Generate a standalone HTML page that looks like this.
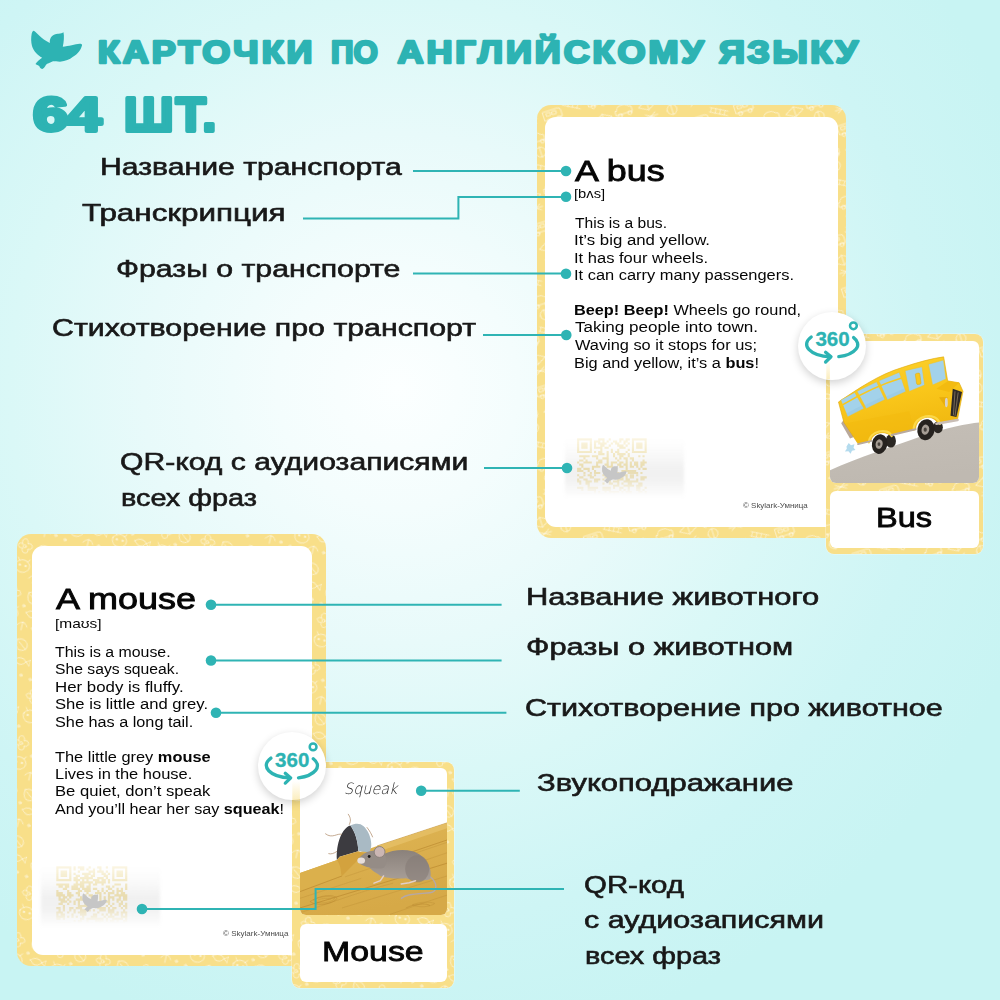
<!DOCTYPE html>
<html lang="ru">
<head>
<meta charset="utf-8">
<title>Карточки по английскому языку</title>
<style>
html,body{margin:0;padding:0;}
body{width:1000px;height:1000px;position:relative;overflow:hidden;
 font-family:"Liberation Sans",sans-serif;
 background:radial-gradient(circle 670px at 398px 388px,#fcffff 0%,#f4fdfd 18%,#e8fafa 38%,#daf8f7 58%,#cef5f5 80%,#c8f4f3 100%);}
.t{position:absolute;white-space:nowrap;transform-origin:0 0;margin:0;padding:0;}
.t b{font-weight:700;}
.card{position:absolute;background:#f8df89;box-sizing:border-box;overflow:hidden;}
.inner{position:absolute;background:#fff;}
.abs{position:absolute;}
svg{position:absolute;left:0;top:0;overflow:visible;}
</style>
</head>
<body>


<svg width="0" height="0" style="position:absolute">
  <defs>
    <pattern id="padv" width="46" height="52" patternUnits="userSpaceOnUse" patternTransform="rotate(-18)">
      <g fill="none" stroke="#fff" stroke-width=".9" stroke-opacity=".6" stroke-linecap="round" stroke-linejoin="round">
        <path d="M3 9h15a3 3 0 0 1 3 3v6H3z M6 11h4v3H6z M12 11h4v3h-4z"/>
        <circle cx="7" cy="19" r="2"/><circle cx="17" cy="19" r="2"/>
        <path d="M26 4l16 9 M24 8l16 9 M27 5l-2 3 M31 7l-2 4 M35 9l-2 4 M39 12l-2 3"/>
        <path d="M28 30c0-5 10-5 12-1l3 1v5H26v-4z"/><circle cx="30" cy="36" r="2"/><circle cx="40" cy="36" r="2"/>
        <path d="M4 34l9-5 9 5-9 5z M13 29v10"/>
        <path d="M6 46h14 M8 43l10 6 M8 49l10-6"/>
        <path d="M30 46a5 5 0 1 0 10 0a5 5 0 1 0-10 0 M35 41v10"/>
      </g>
    </pattern>
    <pattern id="pada" width="44" height="48" patternUnits="userSpaceOnUse" patternTransform="rotate(14)">
      <g fill="none" stroke="#fff" stroke-width=".9" stroke-opacity=".6" stroke-linecap="round" stroke-linejoin="round">
        <path d="M8 8c-4-6 6-8 5-1c6-3 7 6 1 5c3 6-7 6-5 0c-6 2-7-6-1-4z"/><circle cx="10.500" cy="10" r="1.500"/>
        <path d="M26 6c6-4 14 2 10 8c-4 4-12 2-10-8z M28 8l8 6"/>
        <path d="M6 28c2-6 12-6 14 0c1 5-3 8-7 8s-8-3-7-8z M9 25l-2-3 M17 25l2-3"/><circle cx="10" cy="29" r=".8"/><circle cx="16" cy="29" r=".8"/>
        <path d="M28 26q6-6 12 0q-6 8-12 0z M40 26l4-3v6z"/>
        <circle cx="24" cy="20" r="1.200"/><circle cx="38" cy="40" r="1.200"/><circle cx="4" cy="42" r="1.200"/>
        <path d="M22 40c3-5 8-5 10 0 M27 36v8"/>
      </g>
    </pattern>
  </defs>
</svg>

<!-- big bus card -->
<div class="card" style="left:537px;top:105px;width:309px;height:433px;border-radius:14px;">
  <svg width="309" height="433" style="position:absolute;left:0;top:0"><rect width="309" height="433" fill="url(#padv)"/></svg>
  <div class="inner" style="left:8px;top:12px;width:293px;height:410px;border-radius:11px;"></div>
</div>

<!-- big mouse card -->
<div class="card" style="left:17px;top:534px;width:309px;height:432px;border-radius:14px;">
  <svg width="309" height="432" style="position:absolute;left:0;top:0"><rect width="309" height="432" fill="url(#pada)"/></svg>
  <div class="inner" style="left:14.8px;top:12px;width:280px;height:409px;border-radius:11px;"></div>
</div>


<!-- QR areas -->
<svg width="1000" height="1000" viewBox="0 0 1000 1000">
  <defs>
    <linearGradient id="qrf1" gradientUnits="userSpaceOnUse" x1="0" y1="438" x2="0" y2="497">
      <stop offset="0" stop-color="#fff" stop-opacity=".7"/><stop offset=".25" stop-color="#fff" stop-opacity=".4"/><stop offset=".5" stop-color="#fff" stop-opacity=".12"/><stop offset=".7" stop-color="#fff" stop-opacity=".3"/><stop offset=".95" stop-color="#fff" stop-opacity="1"/>
    </linearGradient>
    <linearGradient id="qrf2" gradientUnits="userSpaceOnUse" x1="0" y1="866" x2="0" y2="926">
      <stop offset="0" stop-color="#fff" stop-opacity=".7"/><stop offset=".25" stop-color="#fff" stop-opacity=".4"/><stop offset=".5" stop-color="#fff" stop-opacity=".12"/><stop offset=".7" stop-color="#fff" stop-opacity=".3"/><stop offset=".95" stop-color="#fff" stop-opacity="1"/>
    </linearGradient>
    <linearGradient id="band1" gradientUnits="userSpaceOnUse" x1="0" y1="440" x2="0" y2="498">
      <stop offset="0" stop-color="#aaa" stop-opacity="0"/><stop offset=".25" stop-color="#aaa" stop-opacity=".07"/><stop offset=".5" stop-color="#aaa" stop-opacity=".17"/><stop offset=".65" stop-color="#aaa" stop-opacity=".17"/><stop offset=".85" stop-color="#aaa" stop-opacity=".08"/><stop offset="1" stop-color="#aaa" stop-opacity="0"/>
    </linearGradient>
    <linearGradient id="band2" gradientUnits="userSpaceOnUse" x1="0" y1="868" x2="0" y2="928">
      <stop offset="0" stop-color="#aaa" stop-opacity="0"/><stop offset=".25" stop-color="#aaa" stop-opacity=".07"/><stop offset=".5" stop-color="#aaa" stop-opacity=".17"/><stop offset=".65" stop-color="#aaa" stop-opacity=".17"/><stop offset=".85" stop-color="#aaa" stop-opacity=".08"/><stop offset="1" stop-color="#aaa" stop-opacity="0"/>
    </linearGradient>
    <clipPath id="qc1"><rect x="570" y="436" width="90" height="61"/></clipPath><clipPath id="qc2"><rect x="50" y="864" width="90" height="62"/></clipPath>
    <filter id="bl" x="-10%" y="-10%" width="120%" height="120%"><feGaussianBlur stdDeviation="1.5"/></filter>
    <path id="bird" d="M125 155 C150 160 230 275 355 328 C345 240 410 190 480 195 C510 195 535 185 550 176 C562 230 555 320 540 382 C620 372 720 345 780 338 C805 338 818 345 815 360 C800 420 760 480 680 530 C640 565 580 590 500 595 C460 595 420 592 400 590 C360 605 310 630 300 640 C290 660 270 695 248 700 C230 700 215 685 205 660 C190 645 160 640 150 628 C170 600 215 560 245 540 C180 500 120 440 100 370 C85 320 85 250 95 200 C100 175 110 155 125 155Z"/>
  </defs>
  <path d="M577.1 438.3h14.8v2.1h-14.8zM598.2 438.3h6.3v2.1h-6.3zM608.7 438.3h2.1v2.1h-2.1zM619.3 438.3h4.2v2.1h-4.2zM625.6 438.3h4.2v2.1h-4.2zM631.9 438.3h14.8v2.1h-14.8zM577.1 440.4h2.1v2.1h-2.1zM589.8 440.4h2.1v2.1h-2.1zM594.0 440.4h6.3v2.1h-6.3zM602.4 440.4h2.1v2.1h-2.1zM606.6 440.4h2.1v2.1h-2.1zM613.0 440.4h4.2v2.1h-4.2zM619.3 440.4h2.1v2.1h-2.1zM623.5 440.4h4.2v2.1h-4.2zM631.9 440.4h2.1v2.1h-2.1zM644.6 440.4h2.1v2.1h-2.1zM577.1 442.5h2.1v2.1h-2.1zM581.3 442.5h6.3v2.1h-6.3zM589.8 442.5h2.1v2.1h-2.1zM594.0 442.5h2.1v2.1h-2.1zM598.2 442.5h8.4v2.1h-8.4zM610.8 442.5h2.1v2.1h-2.1zM615.1 442.5h4.2v2.1h-4.2zM623.5 442.5h2.1v2.1h-2.1zM627.7 442.5h2.1v2.1h-2.1zM631.9 442.5h2.1v2.1h-2.1zM636.2 442.5h6.3v2.1h-6.3zM644.6 442.5h2.1v2.1h-2.1zM577.1 444.6h2.1v2.1h-2.1zM581.3 444.6h6.3v2.1h-6.3zM589.8 444.6h2.1v2.1h-2.1zM594.0 444.6h2.1v2.1h-2.1zM600.3 444.6h4.2v2.1h-4.2zM608.7 444.6h2.1v2.1h-2.1zM617.2 444.6h6.3v2.1h-6.3zM625.6 444.6h2.1v2.1h-2.1zM631.9 444.6h2.1v2.1h-2.1zM636.2 444.6h6.3v2.1h-6.3zM644.6 444.6h2.1v2.1h-2.1zM577.1 446.7h2.1v2.1h-2.1zM581.3 446.7h6.3v2.1h-6.3zM589.8 446.7h2.1v2.1h-2.1zM594.0 446.7h8.4v2.1h-8.4zM604.5 446.7h4.2v2.1h-4.2zM619.3 446.7h6.3v2.1h-6.3zM631.9 446.7h2.1v2.1h-2.1zM636.2 446.7h6.3v2.1h-6.3zM644.6 446.7h2.1v2.1h-2.1zM577.1 448.8h2.1v2.1h-2.1zM589.8 448.8h2.1v2.1h-2.1zM600.3 448.8h2.1v2.1h-2.1zM610.8 448.8h2.1v2.1h-2.1zM617.2 448.8h2.1v2.1h-2.1zM627.7 448.8h2.1v2.1h-2.1zM631.9 448.8h2.1v2.1h-2.1zM644.6 448.8h2.1v2.1h-2.1zM577.1 451.0h14.8v2.1h-14.8zM594.0 451.0h2.1v2.1h-2.1zM598.2 451.0h4.2v2.1h-4.2zM606.6 451.0h2.1v2.1h-2.1zM610.8 451.0h2.1v2.1h-2.1zM615.1 451.0h4.2v2.1h-4.2zM625.6 451.0h2.1v2.1h-2.1zM631.9 451.0h14.8v2.1h-14.8zM598.2 453.1h6.3v2.1h-6.3zM606.6 453.1h2.1v2.1h-2.1zM613.0 453.1h2.1v2.1h-2.1zM617.2 453.1h8.4v2.1h-8.4zM627.7 453.1h2.1v2.1h-2.1zM579.2 455.2h10.5v2.1h-10.5zM591.9 455.2h6.3v2.1h-6.3zM606.6 455.2h2.1v2.1h-2.1zM613.0 455.2h2.1v2.1h-2.1zM619.3 455.2h4.2v2.1h-4.2zM627.7 455.2h2.1v2.1h-2.1zM638.3 455.2h2.1v2.1h-2.1zM642.5 455.2h2.1v2.1h-2.1zM583.4 457.3h2.1v2.1h-2.1zM596.1 457.3h2.1v2.1h-2.1zM602.4 457.3h6.3v2.1h-6.3zM615.1 457.3h2.1v2.1h-2.1zM619.3 457.3h2.1v2.1h-2.1zM623.5 457.3h4.2v2.1h-4.2zM629.8 457.3h4.2v2.1h-4.2zM579.2 459.4h4.2v2.1h-4.2zM585.5 459.4h2.1v2.1h-2.1zM598.2 459.4h4.2v2.1h-4.2zM606.6 459.4h2.1v2.1h-2.1zM617.2 459.4h2.1v2.1h-2.1zM625.6 459.4h2.1v2.1h-2.1zM631.9 459.4h2.1v2.1h-2.1zM642.5 459.4h2.1v2.1h-2.1zM577.1 461.5h2.1v2.1h-2.1zM583.4 461.5h8.4v2.1h-8.4zM596.1 461.5h6.3v2.1h-6.3zM606.6 461.5h2.1v2.1h-2.1zM610.8 461.5h6.3v2.1h-6.3zM619.3 461.5h4.2v2.1h-4.2zM625.6 461.5h2.1v2.1h-2.1zM629.8 461.5h2.1v2.1h-2.1zM634.0 461.5h4.2v2.1h-4.2zM640.4 461.5h6.3v2.1h-6.3zM579.2 463.6h4.2v2.1h-4.2zM596.1 463.6h2.1v2.1h-2.1zM604.5 463.6h4.2v2.1h-4.2zM610.8 463.6h2.1v2.1h-2.1zM617.2 463.6h4.2v2.1h-4.2zM623.5 463.6h4.2v2.1h-4.2zM629.8 463.6h2.1v2.1h-2.1zM634.0 463.6h4.2v2.1h-4.2zM640.4 463.6h4.2v2.1h-4.2zM581.3 465.7h2.1v2.1h-2.1zM591.9 465.7h8.4v2.1h-8.4zM606.6 465.7h6.3v2.1h-6.3zM619.3 465.7h4.2v2.1h-4.2zM625.6 465.7h2.1v2.1h-2.1zM629.8 465.7h4.2v2.1h-4.2zM636.2 465.7h2.1v2.1h-2.1zM640.4 465.7h2.1v2.1h-2.1zM577.1 467.8h4.2v2.1h-4.2zM583.4 467.8h6.3v2.1h-6.3zM591.9 467.8h2.1v2.1h-2.1zM604.5 467.8h2.1v2.1h-2.1zM615.1 467.8h2.1v2.1h-2.1zM625.6 467.8h2.1v2.1h-2.1zM638.3 467.8h2.1v2.1h-2.1zM642.5 467.8h4.2v2.1h-4.2zM577.1 469.9h6.3v2.1h-6.3zM587.6 469.9h2.1v2.1h-2.1zM594.0 469.9h2.1v2.1h-2.1zM602.4 469.9h2.1v2.1h-2.1zM615.1 469.9h2.1v2.1h-2.1zM621.4 469.9h14.8v2.1h-14.8zM583.4 472.0h2.1v2.1h-2.1zM589.8 472.0h2.1v2.1h-2.1zM594.0 472.0h6.3v2.1h-6.3zM604.5 472.0h2.1v2.1h-2.1zM608.7 472.0h2.1v2.1h-2.1zM615.1 472.0h4.2v2.1h-4.2zM623.5 472.0h2.1v2.1h-2.1zM627.7 472.0h10.5v2.1h-10.5zM640.4 472.0h2.1v2.1h-2.1zM577.1 474.2h2.1v2.1h-2.1zM583.4 474.2h2.1v2.1h-2.1zM587.6 474.2h4.2v2.1h-4.2zM594.0 474.2h2.1v2.1h-2.1zM602.4 474.2h2.1v2.1h-2.1zM610.8 474.2h2.1v2.1h-2.1zM615.1 474.2h6.3v2.1h-6.3zM623.5 474.2h4.2v2.1h-4.2zM629.8 474.2h4.2v2.1h-4.2zM636.2 474.2h2.1v2.1h-2.1zM579.2 476.3h4.2v2.1h-4.2zM589.8 476.3h4.2v2.1h-4.2zM604.5 476.3h4.2v2.1h-4.2zM615.1 476.3h8.4v2.1h-8.4zM625.6 476.3h2.1v2.1h-2.1zM629.8 476.3h4.2v2.1h-4.2zM640.4 476.3h6.3v2.1h-6.3zM577.1 478.4h2.1v2.1h-2.1zM583.4 478.4h4.2v2.1h-4.2zM594.0 478.4h6.3v2.1h-6.3zM602.4 478.4h2.1v2.1h-2.1zM608.7 478.4h2.1v2.1h-2.1zM617.2 478.4h6.3v2.1h-6.3zM625.6 478.4h4.2v2.1h-4.2zM636.2 478.4h2.1v2.1h-2.1zM640.4 478.4h4.2v2.1h-4.2zM577.1 480.5h4.2v2.1h-4.2zM585.5 480.5h6.3v2.1h-6.3zM594.0 480.5h4.2v2.1h-4.2zM608.7 480.5h2.1v2.1h-2.1zM613.0 480.5h6.3v2.1h-6.3zM623.5 480.5h14.8v2.1h-14.8zM579.2 482.6h2.1v2.1h-2.1zM585.5 482.6h4.2v2.1h-4.2zM602.4 482.6h2.1v2.1h-2.1zM608.7 482.6h4.2v2.1h-4.2zM617.2 482.6h2.1v2.1h-2.1zM621.4 482.6h2.1v2.1h-2.1zM627.7 482.6h4.2v2.1h-4.2zM638.3 482.6h4.2v2.1h-4.2zM587.6 484.7h2.1v2.1h-2.1zM613.0 484.7h6.3v2.1h-6.3zM623.5 484.7h10.5v2.1h-10.5zM636.2 484.7h6.3v2.1h-6.3zM577.1 486.8h6.3v2.1h-6.3zM587.6 486.8h10.5v2.1h-10.5zM602.4 486.8h8.4v2.1h-8.4zM613.0 486.8h2.1v2.1h-2.1zM619.3 486.8h4.2v2.1h-4.2zM627.7 486.8h2.1v2.1h-2.1zM636.2 486.8h4.2v2.1h-4.2zM644.6 486.8h2.1v2.1h-2.1zM581.3 488.9h2.1v2.1h-2.1zM587.6 488.9h8.4v2.1h-8.4zM602.4 488.9h8.4v2.1h-8.4zM619.3 488.9h2.1v2.1h-2.1zM623.5 488.9h2.1v2.1h-2.1zM627.7 488.9h2.1v2.1h-2.1zM636.2 488.9h4.2v2.1h-4.2zM642.5 488.9h2.1v2.1h-2.1zM594.0 491.0h2.1v2.1h-2.1zM598.2 491.0h2.1v2.1h-2.1zM604.5 491.0h2.1v2.1h-2.1zM608.7 491.0h10.5v2.1h-10.5zM621.4 491.0h2.1v2.1h-2.1zM625.6 491.0h6.3v2.1h-6.3zM638.3 491.0h4.2v2.1h-4.2zM644.6 491.0h2.1v2.1h-2.1zM577.1 493.1h14.8v2.1h-14.8zM594.0 493.1h2.1v2.1h-2.1zM598.2 493.1h6.3v2.1h-6.3zM606.6 493.1h4.2v2.1h-4.2zM613.0 493.1h2.1v2.1h-2.1zM621.4 493.1h2.1v2.1h-2.1zM625.6 493.1h6.3v2.1h-6.3zM636.2 493.1h4.2v2.1h-4.2zM644.6 493.1h2.1v2.1h-2.1zM577.1 495.2h2.1v2.1h-2.1zM589.8 495.2h2.1v2.1h-2.1zM600.3 495.2h10.5v2.1h-10.5zM621.4 495.2h6.3v2.1h-6.3zM629.8 495.2h4.2v2.1h-4.2zM642.5 495.2h2.1v2.1h-2.1zM577.1 497.4h2.1v2.1h-2.1zM581.3 497.4h6.3v2.1h-6.3zM589.8 497.4h2.1v2.1h-2.1zM598.2 497.4h2.1v2.1h-2.1zM604.5 497.4h6.3v2.1h-6.3zM615.1 497.4h2.1v2.1h-2.1zM619.3 497.4h6.3v2.1h-6.3zM627.7 497.4h2.1v2.1h-2.1zM638.3 497.4h2.1v2.1h-2.1zM577.1 499.5h2.1v2.1h-2.1zM581.3 499.5h6.3v2.1h-6.3zM589.8 499.5h2.1v2.1h-2.1zM594.0 499.5h2.1v2.1h-2.1zM598.2 499.5h6.3v2.1h-6.3zM610.8 499.5h2.1v2.1h-2.1zM617.2 499.5h2.1v2.1h-2.1zM623.5 499.5h10.5v2.1h-10.5zM636.2 499.5h2.1v2.1h-2.1zM640.4 499.5h2.1v2.1h-2.1zM644.6 499.5h2.1v2.1h-2.1zM577.1 501.6h2.1v2.1h-2.1zM581.3 501.6h6.3v2.1h-6.3zM589.8 501.6h2.1v2.1h-2.1zM610.8 501.6h4.2v2.1h-4.2zM623.5 501.6h2.1v2.1h-2.1zM627.7 501.6h4.2v2.1h-4.2zM642.5 501.6h2.1v2.1h-2.1zM577.1 503.7h2.1v2.1h-2.1zM589.8 503.7h2.1v2.1h-2.1zM594.0 503.7h10.5v2.1h-10.5zM613.0 503.7h2.1v2.1h-2.1zM617.2 503.7h2.1v2.1h-2.1zM625.6 503.7h2.1v2.1h-2.1zM629.8 503.7h2.1v2.1h-2.1zM636.2 503.7h10.5v2.1h-10.5zM577.1 505.8h14.8v2.1h-14.8zM594.0 505.8h2.1v2.1h-2.1zM602.4 505.8h6.3v2.1h-6.3zM613.0 505.8h2.1v2.1h-2.1zM617.2 505.8h6.3v2.1h-6.3zM627.7 505.8h2.1v2.1h-2.1zM631.9 505.8h2.1v2.1h-2.1zM636.2 505.8h4.2v2.1h-4.2zM642.5 505.8h2.1v2.1h-2.1z" fill="#f3e2a6" clip-path="url(#qc1)"/>
  <rect x="575" y="436" width="74" height="62" fill="url(#qrf1)"/>
  <rect x="565" y="440" width="119" height="58" fill="url(#band1)" filter="url(#bl)"/>
  <use href="#bird" transform="translate(599.1,459.8) scale(0.0336)" fill="#c6c6c6"/>
  <path d="M56.3 866.2h15.1v2.2h-15.1zM73.5 866.2h2.2v2.2h-2.2zM77.8 866.2h6.5v2.2h-6.5zM88.6 866.2h2.2v2.2h-2.2zM97.2 866.2h4.3v2.2h-4.3zM105.8 866.2h2.2v2.2h-2.2zM112.2 866.2h15.1v2.2h-15.1zM56.3 868.4h2.2v2.2h-2.2zM69.2 868.4h2.2v2.2h-2.2zM73.5 868.4h2.2v2.2h-2.2zM80.0 868.4h4.3v2.2h-4.3zM86.4 868.4h2.2v2.2h-2.2zM92.9 868.4h2.2v2.2h-2.2zM99.3 868.4h2.2v2.2h-2.2zM112.2 868.4h2.2v2.2h-2.2zM125.1 868.4h2.2v2.2h-2.2zM56.3 870.5h2.2v2.2h-2.2zM60.6 870.5h6.5v2.2h-6.5zM69.2 870.5h2.2v2.2h-2.2zM77.8 870.5h2.2v2.2h-2.2zM88.6 870.5h6.5v2.2h-6.5zM97.2 870.5h6.5v2.2h-6.5zM105.8 870.5h2.2v2.2h-2.2zM112.2 870.5h2.2v2.2h-2.2zM116.5 870.5h6.5v2.2h-6.5zM125.1 870.5h2.2v2.2h-2.2zM56.3 872.7h2.2v2.2h-2.2zM60.6 872.7h6.5v2.2h-6.5zM69.2 872.7h2.2v2.2h-2.2zM73.5 872.7h2.2v2.2h-2.2zM82.1 872.7h8.6v2.2h-8.6zM92.9 872.7h2.2v2.2h-2.2zM101.5 872.7h4.3v2.2h-4.3zM107.9 872.7h2.2v2.2h-2.2zM112.2 872.7h2.2v2.2h-2.2zM116.5 872.7h6.5v2.2h-6.5zM125.1 872.7h2.2v2.2h-2.2zM56.3 874.8h2.2v2.2h-2.2zM60.6 874.8h6.5v2.2h-6.5zM69.2 874.8h2.2v2.2h-2.2zM75.7 874.8h4.3v2.2h-4.3zM84.3 874.8h4.3v2.2h-4.3zM90.7 874.8h4.3v2.2h-4.3zM103.6 874.8h4.3v2.2h-4.3zM112.2 874.8h2.2v2.2h-2.2zM116.5 874.8h6.5v2.2h-6.5zM125.1 874.8h2.2v2.2h-2.2zM56.3 877.0h2.2v2.2h-2.2zM69.2 877.0h2.2v2.2h-2.2zM73.5 877.0h4.3v2.2h-4.3zM80.0 877.0h12.9v2.2h-12.9zM97.2 877.0h6.5v2.2h-6.5zM105.8 877.0h2.2v2.2h-2.2zM112.2 877.0h2.2v2.2h-2.2zM125.1 877.0h2.2v2.2h-2.2zM56.3 879.1h15.1v2.2h-15.1zM73.5 879.1h6.5v2.2h-6.5zM82.1 879.1h2.2v2.2h-2.2zM86.4 879.1h2.2v2.2h-2.2zM92.9 879.1h6.5v2.2h-6.5zM101.5 879.1h4.3v2.2h-4.3zM107.9 879.1h2.2v2.2h-2.2zM112.2 879.1h15.1v2.2h-15.1zM75.7 881.3h2.2v2.2h-2.2zM80.0 881.3h12.9v2.2h-12.9zM95.0 881.3h10.8v2.2h-10.8zM107.9 881.3h2.2v2.2h-2.2zM56.3 883.4h12.9v2.2h-12.9zM73.5 883.4h10.8v2.2h-10.8zM88.6 883.4h2.2v2.2h-2.2zM92.9 883.4h4.3v2.2h-4.3zM101.5 883.4h2.2v2.2h-2.2zM114.4 883.4h6.5v2.2h-6.5zM125.1 883.4h2.2v2.2h-2.2zM58.5 885.6h4.3v2.2h-4.3zM64.9 885.6h4.3v2.2h-4.3zM71.4 885.6h6.5v2.2h-6.5zM80.0 885.6h4.3v2.2h-4.3zM86.4 885.6h4.3v2.2h-4.3zM105.8 885.6h4.3v2.2h-4.3zM112.2 885.6h2.2v2.2h-2.2zM125.1 885.6h2.2v2.2h-2.2zM62.8 887.7h4.3v2.2h-4.3zM71.4 887.7h8.6v2.2h-8.6zM82.1 887.7h8.6v2.2h-8.6zM92.9 887.7h4.3v2.2h-4.3zM101.5 887.7h2.2v2.2h-2.2zM107.9 887.7h4.3v2.2h-4.3zM116.5 887.7h2.2v2.2h-2.2zM120.8 887.7h2.2v2.2h-2.2zM125.1 887.7h2.2v2.2h-2.2zM56.3 889.9h2.2v2.2h-2.2zM67.1 889.9h2.2v2.2h-2.2zM77.8 889.9h4.3v2.2h-4.3zM84.3 889.9h6.5v2.2h-6.5zM97.2 889.9h2.2v2.2h-2.2zM101.5 889.9h2.2v2.2h-2.2zM105.8 889.9h2.2v2.2h-2.2zM112.2 889.9h2.2v2.2h-2.2zM116.5 889.9h6.5v2.2h-6.5zM56.3 892.0h6.5v2.2h-6.5zM67.1 892.0h4.3v2.2h-4.3zM75.7 892.0h4.3v2.2h-4.3zM86.4 892.0h2.2v2.2h-2.2zM95.0 892.0h6.5v2.2h-6.5zM103.6 892.0h2.2v2.2h-2.2zM107.9 892.0h6.5v2.2h-6.5zM116.5 892.0h2.2v2.2h-2.2zM120.8 892.0h4.3v2.2h-4.3zM56.3 894.2h8.6v2.2h-8.6zM67.1 894.2h6.5v2.2h-6.5zM77.8 894.2h2.2v2.2h-2.2zM84.3 894.2h2.2v2.2h-2.2zM88.6 894.2h4.3v2.2h-4.3zM99.3 894.2h2.2v2.2h-2.2zM107.9 894.2h2.2v2.2h-2.2zM114.4 894.2h12.9v2.2h-12.9zM58.5 896.3h2.2v2.2h-2.2zM62.8 896.3h4.3v2.2h-4.3zM69.2 896.3h2.2v2.2h-2.2zM80.0 896.3h2.2v2.2h-2.2zM90.7 896.3h2.2v2.2h-2.2zM95.0 896.3h2.2v2.2h-2.2zM99.3 896.3h2.2v2.2h-2.2zM103.6 896.3h2.2v2.2h-2.2zM107.9 896.3h6.5v2.2h-6.5zM118.7 896.3h2.2v2.2h-2.2zM123.0 896.3h4.3v2.2h-4.3zM58.5 898.5h6.5v2.2h-6.5zM67.1 898.5h2.2v2.2h-2.2zM75.7 898.5h12.9v2.2h-12.9zM90.7 898.5h4.3v2.2h-4.3zM99.3 898.5h2.2v2.2h-2.2zM103.6 898.5h2.2v2.2h-2.2zM107.9 898.5h2.2v2.2h-2.2zM112.2 898.5h2.2v2.2h-2.2zM116.5 898.5h4.3v2.2h-4.3zM123.0 898.5h4.3v2.2h-4.3zM60.6 900.6h6.5v2.2h-6.5zM69.2 900.6h2.2v2.2h-2.2zM73.5 900.6h2.2v2.2h-2.2zM77.8 900.6h2.2v2.2h-2.2zM92.9 900.6h2.2v2.2h-2.2zM99.3 900.6h2.2v2.2h-2.2zM103.6 900.6h6.5v2.2h-6.5zM116.5 900.6h2.2v2.2h-2.2zM120.8 900.6h2.2v2.2h-2.2zM58.5 902.8h4.3v2.2h-4.3zM67.1 902.8h2.2v2.2h-2.2zM73.5 902.8h2.2v2.2h-2.2zM77.8 902.8h2.2v2.2h-2.2zM84.3 902.8h2.2v2.2h-2.2zM101.5 902.8h2.2v2.2h-2.2zM107.9 902.8h2.2v2.2h-2.2zM112.2 902.8h2.2v2.2h-2.2zM118.7 902.8h4.3v2.2h-4.3zM125.1 902.8h2.2v2.2h-2.2zM62.8 904.9h2.2v2.2h-2.2zM77.8 904.9h10.8v2.2h-10.8zM92.9 904.9h6.5v2.2h-6.5zM105.8 904.9h2.2v2.2h-2.2zM110.1 904.9h2.2v2.2h-2.2zM118.7 904.9h2.2v2.2h-2.2zM123.0 904.9h4.3v2.2h-4.3zM56.3 907.1h4.3v2.2h-4.3zM62.8 907.1h2.2v2.2h-2.2zM69.2 907.1h4.3v2.2h-4.3zM75.7 907.1h6.5v2.2h-6.5zM86.4 907.1h4.3v2.2h-4.3zM97.2 907.1h8.6v2.2h-8.6zM107.9 907.1h2.2v2.2h-2.2zM112.2 907.1h4.3v2.2h-4.3zM120.8 907.1h2.2v2.2h-2.2zM125.1 907.1h2.2v2.2h-2.2zM58.5 909.2h2.2v2.2h-2.2zM62.8 909.2h2.2v2.2h-2.2zM69.2 909.2h2.2v2.2h-2.2zM73.5 909.2h2.2v2.2h-2.2zM80.0 909.2h10.8v2.2h-10.8zM92.9 909.2h2.2v2.2h-2.2zM99.3 909.2h6.5v2.2h-6.5zM107.9 909.2h6.5v2.2h-6.5zM123.0 909.2h2.2v2.2h-2.2zM56.3 911.4h6.5v2.2h-6.5zM67.1 911.4h2.2v2.2h-2.2zM73.5 911.4h2.2v2.2h-2.2zM77.8 911.4h8.6v2.2h-8.6zM97.2 911.4h2.2v2.2h-2.2zM107.9 911.4h6.5v2.2h-6.5zM116.5 911.4h2.2v2.2h-2.2zM120.8 911.4h6.5v2.2h-6.5zM56.3 913.5h2.2v2.2h-2.2zM60.6 913.5h4.3v2.2h-4.3zM71.4 913.5h2.2v2.2h-2.2zM80.0 913.5h6.5v2.2h-6.5zM92.9 913.5h4.3v2.2h-4.3zM101.5 913.5h2.2v2.2h-2.2zM105.8 913.5h2.2v2.2h-2.2zM110.1 913.5h2.2v2.2h-2.2zM114.4 913.5h4.3v2.2h-4.3zM120.8 913.5h2.2v2.2h-2.2zM125.1 913.5h2.2v2.2h-2.2zM56.3 915.7h8.6v2.2h-8.6zM67.1 915.7h2.2v2.2h-2.2zM71.4 915.7h2.2v2.2h-2.2zM75.7 915.7h2.2v2.2h-2.2zM82.1 915.7h2.2v2.2h-2.2zM90.7 915.7h6.5v2.2h-6.5zM103.6 915.7h2.2v2.2h-2.2zM107.9 915.7h6.5v2.2h-6.5zM120.8 915.7h6.5v2.2h-6.5zM56.3 917.8h4.3v2.2h-4.3zM62.8 917.8h2.2v2.2h-2.2zM80.0 917.8h4.3v2.2h-4.3zM86.4 917.8h17.2v2.2h-17.2zM105.8 917.8h2.2v2.2h-2.2zM112.2 917.8h10.8v2.2h-10.8zM125.1 917.8h2.2v2.2h-2.2zM73.5 920.0h2.2v2.2h-2.2zM77.8 920.0h4.3v2.2h-4.3zM86.4 920.0h2.2v2.2h-2.2zM95.0 920.0h8.6v2.2h-8.6zM105.8 920.0h2.2v2.2h-2.2zM110.1 920.0h4.3v2.2h-4.3zM116.5 920.0h2.2v2.2h-2.2zM123.0 920.0h4.3v2.2h-4.3zM56.3 922.1h15.1v2.2h-15.1zM77.8 922.1h2.2v2.2h-2.2zM86.4 922.1h2.2v2.2h-2.2zM90.7 922.1h2.2v2.2h-2.2zM99.3 922.1h2.2v2.2h-2.2zM103.6 922.1h2.2v2.2h-2.2zM107.9 922.1h10.8v2.2h-10.8zM120.8 922.1h4.3v2.2h-4.3zM56.3 924.3h2.2v2.2h-2.2zM69.2 924.3h2.2v2.2h-2.2zM73.5 924.3h4.3v2.2h-4.3zM82.1 924.3h2.2v2.2h-2.2zM86.4 924.3h8.6v2.2h-8.6zM103.6 924.3h2.2v2.2h-2.2zM107.9 924.3h2.2v2.2h-2.2zM112.2 924.3h2.2v2.2h-2.2zM116.5 924.3h8.6v2.2h-8.6zM56.3 926.4h2.2v2.2h-2.2zM60.6 926.4h6.5v2.2h-6.5zM69.2 926.4h2.2v2.2h-2.2zM73.5 926.4h2.2v2.2h-2.2zM77.8 926.4h4.3v2.2h-4.3zM86.4 926.4h4.3v2.2h-4.3zM92.9 926.4h2.2v2.2h-2.2zM97.2 926.4h2.2v2.2h-2.2zM107.9 926.4h2.2v2.2h-2.2zM112.2 926.4h2.2v2.2h-2.2zM116.5 926.4h4.3v2.2h-4.3zM123.0 926.4h2.2v2.2h-2.2zM56.3 928.6h2.2v2.2h-2.2zM60.6 928.6h6.5v2.2h-6.5zM69.2 928.6h2.2v2.2h-2.2zM75.7 928.6h4.3v2.2h-4.3zM84.3 928.6h2.2v2.2h-2.2zM97.2 928.6h2.2v2.2h-2.2zM103.6 928.6h2.2v2.2h-2.2zM110.1 928.6h6.5v2.2h-6.5zM118.7 928.6h8.6v2.2h-8.6zM56.3 930.7h2.2v2.2h-2.2zM60.6 930.7h6.5v2.2h-6.5zM69.2 930.7h2.2v2.2h-2.2zM90.7 930.7h4.3v2.2h-4.3zM97.2 930.7h2.2v2.2h-2.2zM101.5 930.7h6.5v2.2h-6.5zM116.5 930.7h4.3v2.2h-4.3zM123.0 930.7h2.2v2.2h-2.2zM56.3 932.9h2.2v2.2h-2.2zM69.2 932.9h2.2v2.2h-2.2zM75.7 932.9h2.2v2.2h-2.2zM80.0 932.9h4.3v2.2h-4.3zM97.2 932.9h2.2v2.2h-2.2zM101.5 932.9h2.2v2.2h-2.2zM105.8 932.9h2.2v2.2h-2.2zM110.1 932.9h2.2v2.2h-2.2zM114.4 932.9h2.2v2.2h-2.2zM118.7 932.9h2.2v2.2h-2.2zM56.3 935.0h15.1v2.2h-15.1zM80.0 935.0h2.2v2.2h-2.2zM95.0 935.0h2.2v2.2h-2.2zM101.5 935.0h4.3v2.2h-4.3zM110.1 935.0h4.3v2.2h-4.3z" fill="#f3e2a6" clip-path="url(#qc2)"/>
  <rect x="54" y="864" width="76" height="64" fill="url(#qrf2)"/>
  <rect x="41" y="868" width="119" height="60" fill="url(#band2)" filter="url(#bl)"/>
  <use href="#bird" transform="translate(79.4,888.3) scale(0.0336)" fill="#c6c6c6"/>
</svg>

<!-- small bus card -->
<div class="card" style="left:826px;top:334px;width:157px;height:220px;border-radius:8px;box-shadow:0 0 0 .6px rgba(255,255,255,.5);">
  <svg width="157" height="220" style="position:absolute;left:0;top:0"><rect width="157" height="220" fill="url(#padv)"/></svg>
  <div class="inner" style="left:4px;top:7px;width:149px;height:142px;border-radius:6px;overflow:hidden;" id="busimg"><svg viewBox="25 31 931 887" width="149" height="142" style="position:absolute;left:0;top:0">
  <defs>
    <linearGradient id="hillg" x1="0" y1="0" x2="0.25" y2="1">
      <stop offset="0" stop-color="#cfcac3"/><stop offset="0.25" stop-color="#c3bdb5"/><stop offset="1" stop-color="#bfb9b1"/>
    </linearGradient>
    <linearGradient id="busg" x1="0" y1="0" x2="0.3" y2="1">
      <stop offset="0" stop-color="#fbd230"/><stop offset="0.55" stop-color="#f9c61a"/><stop offset="1" stop-color="#f0b70f"/>
    </linearGradient>
  </defs>
  <!-- hill -->
  <path d="M25 838 C200 760 420 690 600 625 C760 570 880 548 956 540 V918 H25Z" fill="url(#hillg)"/>
  <!-- far wheels -->
  <ellipse cx="405" cy="655" rx="32" ry="42" fill="#2b2723"/>
  <ellipse cx="700" cy="570" rx="30" ry="38" fill="#2b2723"/>
  <!-- rear bumper -->
  <path d="M110 525 L95 545 L150 640 L175 630Z" fill="#b9a89a"/>
  <!-- body -->
  <path d="M78 412 C200 330 330 240 480 195 C570 165 660 140 735 130 L760 280 L832 292 L856 345 L822 520 L700 545 C650 470 560 520 560 580 L400 620 C370 590 290 600 280 655 L200 672 L112 540Z" fill="url(#busg)" stroke="#e0a80c" stroke-width="4" stroke-linejoin="round"/>
  <!-- lower side shade -->
  <path d="M125 545 L520 470 L545 575 L400 618 C370 590 290 600 280 655 L200 672Z" fill="#f2b90e" opacity=".55"/>
  <!-- fenders -->
  <path d="M268 665 C270 590 390 570 410 625" fill="none" stroke="#fbd84a" stroke-width="14" stroke-linecap="round"/>
  <path d="M548 585 C550 490 690 470 712 548" fill="none" stroke="#fbd84a" stroke-width="14" stroke-linecap="round"/>
  <!-- windows -->
  <g fill="#a3d2ea" stroke="#f6c21a" stroke-width="3">
    <path d="M92 400 L180 352 L236 452 L136 504Z"/>
    <path d="M194 345 L316 286 L368 396 L252 452Z"/>
    <path d="M330 280 L458 226 L498 346 L384 398Z"/>
    <path d="M494 216 L600 192 L616 306 L520 346Z"/>
    <path d="M640 176 L734 150 L750 268 L666 306Z"/>
  </g>
  <g fill="#8fc3de" opacity=".35">
    <path d="M136 504 L236 452 L225 432 L126 484Z M252 452 L368 396 L358 376 L242 432Z M384 398 L498 346 L491 326 L376 378Z"/>
  </g>
  <!-- window dividers -->
  <path d="M100 432 C200 372 330 305 472 262" fill="none" stroke="#f9c81c" stroke-width="9"/>
  <!-- mirror -->
  <rect x="562" y="232" width="28" height="70" rx="8" fill="#f9c81c" stroke="#dfa80e" stroke-width="3" transform="rotate(-8 576 267)"/>
  <!-- hood / grill -->
  <path d="M690 330 L760 282 L832 292 L770 350Z" fill="#f3bb10"/>
  <path d="M792 330 L850 350 L815 505 L778 498Z" fill="#2e2a27"/>
  <path d="M806 345 L796 495 M826 352 L806 500" stroke="#8a7a62" stroke-width="5"/>
  <path d="M706 382 L760 380 L745 440Z" fill="#e9ae0c"/>
  <ellipse cx="752" cy="415" rx="9" ry="30" fill="#d8d2cc"/>
  <!-- bumpers / chrome -->
  <path d="M200 675 L285 655 M410 618 L560 582" stroke="#b8aaa0" stroke-width="12" stroke-linecap="round"/>
  <path d="M690 548 L822 524" stroke="#c9beb6" stroke-width="16" stroke-linecap="round"/>
  <!-- wheels -->
  <ellipse cx="335" cy="675" rx="48" ry="62" fill="#26221f" transform="rotate(12 335 675)"/>
  <ellipse cx="332" cy="675" rx="22" ry="30" fill="#a59c94" transform="rotate(12 332 675)"/>
  <ellipse cx="331" cy="675" rx="9" ry="12" fill="#4a443f"/>
  <ellipse cx="625" cy="585" rx="54" ry="66" fill="#26221f" transform="rotate(12 625 585)"/>
  <ellipse cx="621" cy="585" rx="24" ry="32" fill="#a59c94" transform="rotate(12 621 585)"/>
  <ellipse cx="620" cy="585" rx="10" ry="13" fill="#4a443f"/>
  <!-- puff -->
  <path d="M128 690 l14 -22 l14 14 l22 -6 l-6 22 l12 14 l-22 4 l-8 20 l-14 -16 l-22 2 l12 -18z" fill="#b4dbee"/>
</svg>
</div>
  <div class="inner" style="left:4px;top:157px;width:149px;height:57px;border-radius:6px;"></div>
</div>

<!-- small mouse card -->
<div class="card" style="left:292px;top:762px;width:162px;height:226px;border-radius:8px;box-shadow:0 0 0 .6px rgba(255,255,255,.5);">
  <svg width="162" height="226" style="position:absolute;left:0;top:0"><rect width="162" height="226" fill="url(#pada)"/></svg>
  <div class="inner" style="left:8px;top:6px;width:147px;height:147px;border-radius:6px;overflow:hidden;" id="mouseimg"><svg viewBox="37.5 25 919 919" width="147" height="147" style="position:absolute;left:0;top:0">
  <defs>
    <linearGradient id="woodg" x1="0" y1="0" x2="0.35" y2="1">
      <stop offset="0" stop-color="#dfb554"/><stop offset="1" stop-color="#d6a947"/>
    </linearGradient>
    <linearGradient id="mouseg" x1="0" y1="0" x2="0" y2="1">
      <stop offset="0" stop-color="#8a817b"/><stop offset="1" stop-color="#a89f98"/>
    </linearGradient>
  </defs>
  <!-- floor -->
  <path d="M37 682 L270 600 L520 512 L957 368 V944 H37Z" fill="url(#woodg)"/>
  <!-- baseboard face -->
  <path d="M37 682 L270 600 C300 640 290 690 300 700 L37 798Z" fill="#dbb04c"/>
  <path d="M37 798 L300 700 M520 512 L957 368 M470 640 L957 475 M37 900 L600 730 L957 620" stroke="#b3822a" stroke-width="5" fill="none" opacity=".7"/>
  <path d="M520 512 L957 368 V402 L548 540Z" fill="#e4bd62"/>
  <path d="M100 860 C160 820 250 810 270 840 C240 880 140 890 100 860Z M700 900 C760 870 830 870 850 885" fill="none" stroke="#b3822a" stroke-width="4" opacity=".6"/>
  <g fill="none" stroke="#a87a28" stroke-width="3" opacity=".45">
    <path d="M320 705 L957 490"/><path d="M37 840 L420 715"/><path d="M560 690 L957 555"/>
    <path d="M37 930 C200 880 400 800 620 745"/><path d="M300 900 C500 840 760 760 957 700"/>
    <path d="M600 940 C720 900 860 850 957 820"/>
    <path d="M120 850 C170 825 235 822 255 842 C225 872 150 878 120 850Z"/>
    <path d="M150 850 C180 838 215 838 228 846"/>
    <path d="M740 880 C790 860 850 860 880 872 C850 895 780 900 740 880Z"/>
  </g>
  <!-- hole -->
  <path d="M268 600 C262 500 300 400 352 385 C380 420 400 480 402 545 L285 580Z" fill="#3c3b40"/>
  <path d="M352 385 C400 360 440 372 470 440 C485 480 490 520 470 552 L402 545 C400 480 380 420 352 385Z" fill="#a9bac4"/>
  <path d="M300 440 C270 430 240 470 195 435 M345 380 C360 350 350 330 338 312 M270 545 C250 560 230 565 215 560 M455 395 C475 420 485 440 492 458" stroke="#a37a55" stroke-width="4" fill="none"/>
  <!-- floor in front of hole -->
  <path d="M268 600 L285 580 L402 545 L440 560 L300 700 C290 690 300 640 268 600Z" fill="#d3a23e"/>
  <!-- tail -->
  <path d="M845 700 C900 740 900 800 850 805 C780 812 700 810 672 840" fill="none" stroke="#b5a8a6" stroke-width="9" stroke-linecap="round"/>
  <!-- body -->
  <path d="M470 640 C520 560 640 520 740 545 C830 570 870 660 850 720 C800 735 740 730 700 715 C640 720 570 710 540 700 C520 680 480 670 470 640Z" fill="url(#mouseg)"/>
  <ellipse cx="770" cy="655" rx="75" ry="85" fill="#857c77" opacity=".6"/>
  <!-- head -->
  <path d="M400 600 C420 560 480 530 540 545 C580 560 590 620 560 650 C510 660 440 650 400 615Z" fill="#958c86"/>
  <ellipse cx="420" cy="604" rx="24" ry="20" fill="#e6dedb"/>
  <circle cx="535" cy="550" r="34" fill="#cbb6b3" stroke="#8a807a" stroke-width="6"/>
  <circle cx="470" cy="578" r="9" fill="#1d1b1b"/>
  <!-- feet -->
  <path d="M500 745 L540 730 L560 700 M670 750 L720 742 L760 730" stroke="#e2cfcb" stroke-width="9" fill="none" stroke-linecap="round"/>
</svg>
</div>
  <div class="inner" style="left:8px;top:162px;width:147px;height:58px;border-radius:6px;"></div>
</div>

<!-- 360 badges -->
<div class="abs" style="left:798px;top:311.5px;width:68px;height:68px;border-radius:50%;background:#fff;box-shadow:0 3px 8px rgba(0,0,0,.18);"></div>
<div class="abs" style="left:257.8px;top:732.4px;width:68px;height:68px;border-radius:50%;background:#fff;box-shadow:0 3px 8px rgba(0,0,0,.18);"></div>


<svg width="1000" height="1000" viewBox="0 0 1000 1000" style="pointer-events:none">
  <defs>
    <linearGradient id="st1" x1="0" y1="0" x2="0" y2="1"><stop offset="0" stop-color="#f8df89" stop-opacity="0"/><stop offset="1" stop-color="#f8df89" stop-opacity=".55"/></linearGradient>
  </defs>
  <rect x="826.3" y="360" width="3.6" height="19" fill="url(#st1)"/>
  <rect x="292.3" y="781" width="7.6" height="19" fill="url(#st1)"/>
</svg>

<!-- title + connectors -->
<svg width="1000" height="1000" viewBox="0 0 1000 1000">
  <g font-family="Liberation Sans, sans-serif" font-weight="700" fill="#2db3b3" stroke="#2db3b3" stroke-linejoin="round" stroke-linecap="round">
    <g font-size="31.3" stroke-width="2.5">
      <text transform="translate(97.80,62.6) scale(1.15,1)" letter-spacing="2.609">КАРТОЧКИ</text>
<text transform="translate(331.00,62.6) scale(1.0,1)" letter-spacing="0.000">ПО</text>
<text transform="translate(397.50,62.6) scale(1.15,1)" letter-spacing="2.565">АНГЛИЙСКОМУ</text>
<text transform="translate(719.00,62.6) scale(1.15,1)" letter-spacing="2.174">ЯЗЫКУ</text>
    </g>
    <g font-size="47.8" stroke-width="3.8">
      <text transform="translate(33.00,131.2) scale(1.32,1)" letter-spacing="-1.136">64</text>
<text transform="translate(124.00,131.2) scale(1.03,1)" letter-spacing="2.184">ШТ.</text>
    </g>
  </g>
  <g fill="none" stroke="#2fb4b4" stroke-width="2">
    <path d="M413 171H566"/>
    <path d="M303 218.5H458.4V197H566"/>
    <path d="M413 273.5H566"/>
    <path d="M483 335H566"/>
    <path d="M484 468H567"/>
    <path d="M211 604.8H501.6"/>
    <path d="M211 660.6H501.6"/>
    <path d="M216 712.8H506.4"/>
    <path d="M421 790.8H519.8"/>
    <path d="M142 909H315.6V889H564"/>
  </g>
  <g fill="#2fb4b4">
    <circle cx="566" cy="171" r="5.3"/>
    <circle cx="566" cy="196.7" r="5.3"/>
    <circle cx="566" cy="273.8" r="5.3"/>
    <circle cx="566.3" cy="335" r="5.3"/>
    <circle cx="567" cy="468" r="5.3"/>
    <circle cx="211" cy="604.7" r="5.3"/>
    <circle cx="211" cy="660.5" r="5.3"/>
    <circle cx="216" cy="712.7" r="5.3"/>
    <circle cx="421.2" cy="790.8" r="5.3"/>
    <circle cx="142" cy="909" r="5.3"/>
  </g>

  <use href="#bird" transform="translate(25,20) scale(0.07)" fill="#2db3b3"/>
  <g id="i360">
    <g fill="none" stroke="#2db3b3" stroke-width="3.3" stroke-linecap="round" stroke-linejoin="round">
      <path d="M811.2 337 A25.4 12.6 0 0 0 830.2 356.8"/>
      <path d="M838.8 356.7 A25.4 12.6 0 0 0 853.6 337.6"/>
      <path d="M825.6 352.2 L831 356.8 L825.6 362"/>
      <circle cx="853.4" cy="325.8" r="3.4" stroke-width="2.5"/>
    </g>
    <text x="815.4" y="345.7" font-family="Liberation Sans, sans-serif" font-weight="700" font-size="20.4" fill="#2db3b3" stroke="#2db3b3" stroke-width=".3" stroke-linejoin="round" textLength="34.3" lengthAdjust="spacingAndGlyphs">360</text>
  </g>
  <g transform="translate(-540.3,421.1)">
    <g fill="none" stroke="#2db3b3" stroke-width="3.3" stroke-linecap="round" stroke-linejoin="round">
      <path d="M811.2 337 A25.4 12.6 0 0 0 830.2 356.8"/>
      <path d="M838.8 356.7 A25.4 12.6 0 0 0 853.6 337.6"/>
      <path d="M825.6 352.2 L831 356.8 L825.6 362"/>
      <circle cx="853.4" cy="325.8" r="3.4" stroke-width="2.5"/>
    </g>
    <text x="815.4" y="345.7" font-family="Liberation Sans, sans-serif" font-weight="700" font-size="20.4" fill="#2db3b3" stroke="#2db3b3" stroke-width=".3" stroke-linejoin="round" textLength="34.3" lengthAdjust="spacingAndGlyphs">360</text>
  </g>
</svg>

<div class="t" id="t0" style="left:100.20px;top:152.00px;font-size:24.3px;line-height:29.16px;font-weight:400;color:#181818;-webkit-text-stroke:0.6px #181818;transform:scaleX(1.2416);">Название транспорта</div>
<div class="t" id="t1" style="left:82.40px;top:198.00px;font-size:24.3px;line-height:29.16px;font-weight:400;color:#181818;-webkit-text-stroke:0.6px #181818;transform:scaleX(1.2920);">Транскрипция</div>
<div class="t" id="t2" style="left:115.60px;top:254.00px;font-size:24.3px;line-height:29.16px;font-weight:400;color:#181818;-webkit-text-stroke:0.6px #181818;transform:scaleX(1.2442);">Фразы о транспорте</div>
<div class="t" id="t3" style="left:51.80px;top:313.00px;font-size:24.3px;line-height:29.16px;font-weight:400;color:#181818;-webkit-text-stroke:0.6px #181818;transform:scaleX(1.2473);">Стихотворение про транспорт</div>
<div class="t" id="t4" style="left:119.80px;top:447.00px;font-size:24.3px;line-height:29.16px;font-weight:400;color:#181818;-webkit-text-stroke:0.6px #181818;transform:scaleX(1.2402);">QR-код с аудиозаписями</div>
<div class="t" id="t5" style="left:121.00px;top:483.00px;font-size:24.3px;line-height:29.16px;font-weight:400;color:#181818;-webkit-text-stroke:0.6px #181818;transform:scaleX(1.1875);">всех фраз</div>
<div class="t" id="t6" style="left:525.80px;top:582.00px;font-size:24.3px;line-height:29.16px;font-weight:400;color:#181818;-webkit-text-stroke:0.6px #181818;transform:scaleX(1.2712);">Название животного</div>
<div class="t" id="t7" style="left:525.80px;top:632.00px;font-size:24.3px;line-height:29.16px;font-weight:400;color:#181818;-webkit-text-stroke:0.6px #181818;transform:scaleX(1.2662);">Фразы о животном</div>
<div class="t" id="t8" style="left:525.20px;top:693.00px;font-size:24.3px;line-height:29.16px;font-weight:400;color:#181818;-webkit-text-stroke:0.6px #181818;transform:scaleX(1.2561);">Стихотворение про животное</div>
<div class="t" id="t9" style="left:536.60px;top:768.00px;font-size:24.3px;line-height:29.16px;font-weight:400;color:#181818;-webkit-text-stroke:0.6px #181818;transform:scaleX(1.2742);">Звукоподражание</div>
<div class="t" id="t10" style="left:584.00px;top:870.00px;font-size:24.3px;line-height:29.16px;font-weight:400;color:#181818;-webkit-text-stroke:0.6px #181818;transform:scaleX(1.2106);">QR-код</div>
<div class="t" id="t11" style="left:584.00px;top:905.00px;font-size:24.3px;line-height:29.16px;font-weight:400;color:#181818;-webkit-text-stroke:0.6px #181818;transform:scaleX(1.2538);">с аудиозаписями</div>
<div class="t" id="t12" style="left:585.00px;top:941.00px;font-size:24.3px;line-height:29.16px;font-weight:400;color:#181818;-webkit-text-stroke:0.6px #181818;transform:scaleX(1.1874);">всех фраз</div>
<div class="t" id="t13" style="left:575.40px;top:153.17px;font-size:29.4px;line-height:35.28px;font-weight:400;color:#060606;-webkit-text-stroke:0.85px #060606;transform:scaleX(1.2184);">A bus</div>
<div class="t" id="t14" style="left:574.00px;top:186.22px;font-size:13.5px;line-height:16.20px;font-weight:400;color:#060606;transform:scaleX(1.0908);">[bʌs]</div>
<div class="t" id="t15" style="left:575.00px;top:214.42px;font-size:15.4px;line-height:18.48px;font-weight:400;color:#060606;transform:scaleX(1.0148);">This is a bus.</div>
<div class="t" id="t16" style="left:574.00px;top:231.42px;font-size:15.4px;line-height:18.48px;font-weight:400;color:#060606;transform:scaleX(1.0914);">It’s big and yellow.</div>
<div class="t" id="t17" style="left:574.00px;top:249.42px;font-size:15.4px;line-height:18.48px;font-weight:400;color:#060606;transform:scaleX(1.0730);">It has four wheels.</div>
<div class="t" id="t18" style="left:574.00px;top:266.42px;font-size:15.4px;line-height:18.48px;font-weight:400;color:#060606;transform:scaleX(1.0672);">It can carry many passengers.</div>
<div class="t" id="t19" style="left:574.00px;top:301.42px;font-size:15.4px;line-height:18.48px;font-weight:400;color:#060606;transform:scaleX(1.0573);"><b>Beep! Beep!</b> Wheels go round,</div>
<div class="t" id="t20" style="left:575.00px;top:318.42px;font-size:15.4px;line-height:18.48px;font-weight:400;color:#060606;transform:scaleX(1.1082);">Taking people into town.</div>
<div class="t" id="t21" style="left:575.00px;top:336.42px;font-size:15.4px;line-height:18.48px;font-weight:400;color:#060606;transform:scaleX(1.0621);">Waving so it stops for us;</div>
<div class="t" id="t22" style="left:574.00px;top:354.42px;font-size:15.4px;line-height:18.48px;font-weight:400;color:#060606;transform:scaleX(1.0618);">Big and yellow, it’s a <b>bus</b>!</div>
<div class="t" id="t23" style="left:743.20px;top:501.43px;font-size:8px;line-height:9.60px;font-weight:400;color:#4c4c4c;transform:scaleX(0.9946);">© Skylark-Умница</div>
<div class="t" id="t24" style="left:876.00px;top:502.44px;font-size:27px;line-height:32.40px;font-weight:400;color:#060606;-webkit-text-stroke:0.8px #060606;transform:scaleX(1.2051);">Bus</div>
<div class="t" id="t25" style="left:56.00px;top:581.17px;font-size:29.4px;line-height:35.28px;font-weight:400;color:#060606;-webkit-text-stroke:0.85px #060606;transform:scaleX(1.2241);">A mouse</div>
<div class="t" id="t26" style="left:55.40px;top:616.22px;font-size:13.5px;line-height:16.20px;font-weight:400;color:#060606;transform:scaleX(1.1472);">[maʊs]</div>
<div class="t" id="t27" style="left:55.00px;top:643.42px;font-size:15.4px;line-height:18.48px;font-weight:400;color:#060606;transform:scaleX(1.0316);">This is a mouse.</div>
<div class="t" id="t28" style="left:55.00px;top:660.42px;font-size:15.4px;line-height:18.48px;font-weight:400;color:#060606;transform:scaleX(1.0207);">She says squeak.</div>
<div class="t" id="t29" style="left:55.00px;top:678.42px;font-size:15.4px;line-height:18.48px;font-weight:400;color:#060606;transform:scaleX(1.0950);">Her body is fluffy.</div>
<div class="t" id="t30" style="left:55.00px;top:695.42px;font-size:15.4px;line-height:18.48px;font-weight:400;color:#060606;transform:scaleX(1.0797);">She is little and grey.</div>
<div class="t" id="t31" style="left:55.00px;top:713.42px;font-size:15.4px;line-height:18.48px;font-weight:400;color:#060606;transform:scaleX(1.0559);">She has a long tail.</div>
<div class="t" id="t32" style="left:55.40px;top:748.42px;font-size:15.4px;line-height:18.48px;font-weight:400;color:#060606;transform:scaleX(1.0637);">The little grey <b>mouse</b></div>
<div class="t" id="t33" style="left:55.00px;top:765.42px;font-size:15.4px;line-height:18.48px;font-weight:400;color:#060606;transform:scaleX(1.0693);">Lives in the house.</div>
<div class="t" id="t34" style="left:55.00px;top:782.42px;font-size:15.4px;line-height:18.48px;font-weight:400;color:#060606;transform:scaleX(1.0811);">Be quiet, don’t speak</div>
<div class="t" id="t35" style="left:55.00px;top:800.42px;font-size:15.4px;line-height:18.48px;font-weight:400;color:#060606;transform:scaleX(1.0497);">And you’ll hear her say <b>squeak</b>!</div>
<div class="t" id="t36" style="left:223.20px;top:929.43px;font-size:8px;line-height:9.60px;font-weight:400;color:#4c4c4c;transform:scaleX(1.0038);">© Skylark-Умница</div>
<div class="t" id="t37" style="left:322.00px;top:936.44px;font-size:27px;line-height:32.40px;font-weight:400;color:#060606;-webkit-text-stroke:0.8px #060606;transform:scaleX(1.2543);">Mouse</div>
<div class="t" id="t38" style="left:344.00px;top:779.83px;font-size:15.5px;line-height:18.60px;font-weight:200;color:#222;font-family:'DejaVu Sans Light','DejaVu Sans',sans-serif;font-style:oblique;transform:scaleX(0.9287);">Squeak</div>

</body>
</html>
